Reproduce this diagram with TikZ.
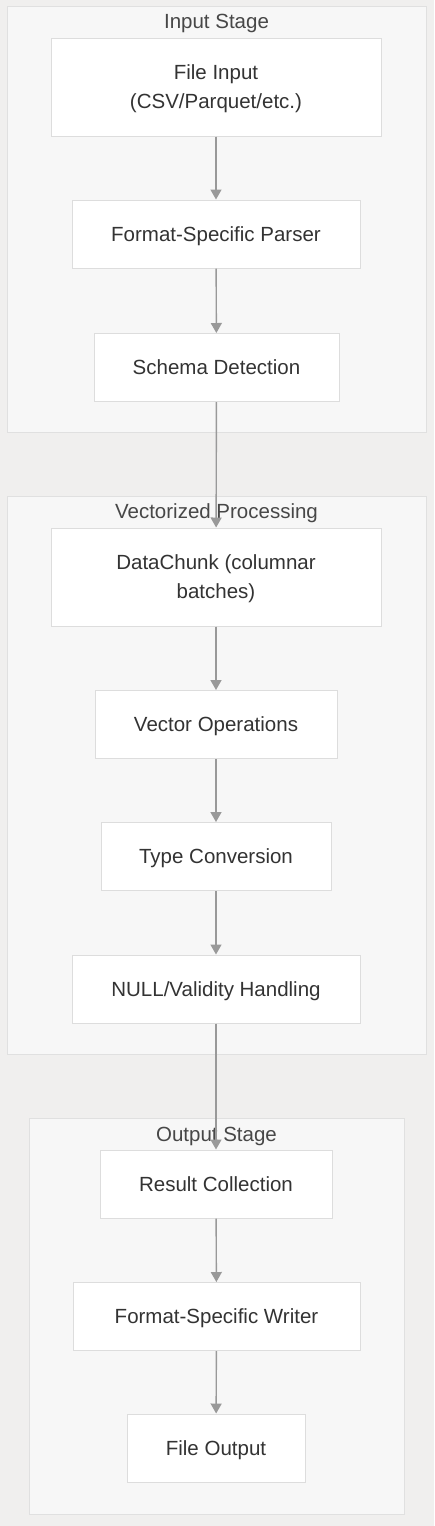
\documentclass[tikz,border=0pt]{standalone}
\usepackage{fontspec}
\setmainfont{Liberation Sans}
\usetikzlibrary{arrows.meta,positioning}
\definecolor{bgcol}{HTML}{F0EFEE}
\definecolor{clfill}{HTML}{F7F7F7}
\definecolor{clline}{HTML}{E0E0E0}
\definecolor{boxline}{HTML}{DDDDDD}
\definecolor{txtcol}{HTML}{333333}
\definecolor{arrcol}{HTML}{999999}

\begin{document}
\begin{tikzpicture}[
    x=1pt, y=-1pt,
    cluster/.style={rectangle, draw=clline, fill=clfill, line width=1pt, inner sep=0pt},
    title/.style={text=txtcol!90, font=\fontsize{20.5}{24}\selectfont},
    box/.style={rectangle, draw=boxline, fill=white, line width=1pt, inner sep=0pt,
        minimum width=#1, minimum height=68pt, align=center, text=txtcol, text depth=0pt,
        font=\fontsize{20.5}{29}\selectfont},
    arrow/.style={-{Triangle[length=10pt, width=11pt]}, draw=arrcol, fill=arrcol, line width=1.4pt}
]

% Background
\fill[bgcol] (0,0) rectangle (434,1526);

% Input stage
\node[cluster, minimum width=419pt, minimum height=426pt] (inputcl) at (216.5,219) {};
\node[title] (inputtitle) at (216.5,23.5) {Input Stage};
\node[box=330pt, minimum height=98pt] (fin) at (216,87) {File Input\\(CSV/Parquet/etc.)};
\node[box=288pt] (parser) at (216,234) {Format-Specific Parser};
\node[box=245pt] (schema) at (216.5,367.5) {Schema Detection};

% Vectorized processing
\node[cluster, minimum width=419pt, minimum height=558pt] (veccl) at (216.5,775) {};
\node[title] (vectitle) at (216.5,513.5) {Vectorized Processing};
\node[box=330pt, minimum height=98pt] (chunk) at (216,577) {DataChunk (columnar\\batches)};
\node[box=242pt] (vecops) at (216,724.5) {Vector Operations};
\node[box=230pt] (typeconv) at (216,856.5) {Type Conversion};
\node[box=288pt] (nullh) at (216,989) {NULL/Validity Handling};

% Output stage
\node[cluster, minimum width=375pt, minimum height=396pt] (outcl) at (216.5,1316) {};
\node[title] (outtitle) at (216.5,1136.5) {Output Stage};
\node[box=232pt] (result) at (216,1184) {Result Collection};
\node[box=287pt] (writer) at (216.5,1316.5) {Format-Specific Writer};
\node[box=178pt] (fout) at (216,1448) {File Output};

% Arrows
\draw[arrow] (fin) -- (parser);
\draw[arrow] (parser) -- (schema);
\draw[arrow] (schema) -- (chunk);
\draw[arrow] (chunk) -- (vecops);
\draw[arrow] (vecops) -- (typeconv);
\draw[arrow] (typeconv) -- (nullh);
\draw[arrow] (nullh) -- (result);
\draw[arrow] (result) -- (writer);
\draw[arrow] (writer) -- (fout);

\end{tikzpicture}
\end{document}
